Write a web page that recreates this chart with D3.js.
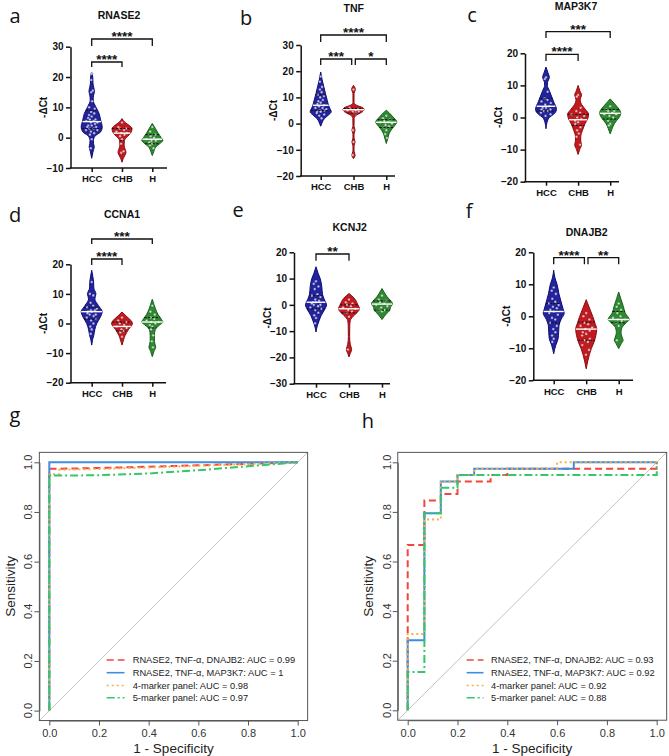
<!DOCTYPE html>
<html><head><meta charset="utf-8">
<script src="https://cdn.jsdelivr.net/npm/d3@7"></script>
<style>body{margin:0;background:#fff}svg{display:block}</style>
</head><body>
<svg id="chart" width="669" height="756"></svg>
<script>
// ---------------- DATA ----------------
const groups = ["HCC", "CHB", "H"];

// violin density profiles: [value, relative half-width], top to bottom
const RNASE2_yTicks = [-10, 0, 10, 20, 30];
const RNASE2_profiles = [
  [[21.4,0],[20,0.1],[18,0.12],[16.5,0.2],[15.2,0.26],[14,0.18],[12.4,0.14],[10.2,0.38],[8,0.7],[5.8,0.85],[3.5,1],[1.9,0.85],[0.8,0.4],[-0.9,0.16],[-2,0.18],[-3,0.24],[-4.7,0.12],[-6.8,0]],
  [[6.3,0],[5,0.3],[4,0.7],[3,0.95],[2,0.9],[1,0.7],[0,0.4],[-1,0.22],[-2.5,0.2],[-3.8,0.3],[-4.8,0.38],[-6,0.25],[-7,0.1],[-8.1,0]],
  [[4.7,0],[3,0.3],[1.5,0.55],[0,0.85],[-0.9,1],[-2,0.7],[-3,0.35],[-4.5,0.15],[-5.9,0]]
];
const RNASE2_stats = [[5.3,3,9],[1.5,-1,3],[-0.5,-2,1]];
const RNASE2_dots = [
  [21,19,15.5,15,12,10,9.5,8.5,8,7.5,7,6.5,6,6,5.5,5.5,5,5,4.5,4,4,3.5,3.5,3,3,2.5,2.5,2,1.5,1,-0.5,-3.5],
  [5,3.5,3,3,2.5,2,1.5,1.5,1,0.5,-0.5,-2,-4.5,-5],
  [3.5,2,1,0.5,0,-0.5,-0.5,-1,-1,-1.5,-2,-2.5,-3.5]
];
const RNASE2_sig = [[0,2,"****"],[0,1,"****"]];

const TNF_yTicks = [-20, -10, 0, 10, 20, 30];
const TNF_profiles = [
  [[19.7,0],[17,0.12],[14,0.3],[11.5,0.45],[8.9,0.62],[6.4,0.8],[4.5,1],[3.2,0.72],[1.9,0.35],[0.5,0.15],[-1,0]],
  [[14.6,0],[13,0.18],[11.5,0.05],[8,0.05],[7,0.3],[6,0.9],[5.3,1],[4.5,0.85],[3.3,0.3],[2,0.06],[-1,0.05],[-2.5,0.15],[-4,0.05],[-5.5,0.05],[-7,0.15],[-8.5,0.05],[-10.5,0.05],[-12,0.15],[-13.4,0]],
  [[5.1,0],[4,0.3],[2.5,0.65],[0.6,1],[-1,0.75],[-2.5,0.45],[-4,0.25],[-5.5,0.15],[-7.6,0]]
];
const TNF_stats = [[7,5,11],[5.3,4,5.8],[0.5,-1.5,1.5]];
const TNF_dots = [
  [18,16,14,13,12,11,10.5,10,9,8.5,8,7.5,7,6.5,6,6,5.5,5,5,4.5,4.5,4,3.5,3,2],
  [13,6,5.5,5.5,5,5,4.5,4.5,4,-2.5,-7,-12],
  [3,2,1.5,1,0.5,0.5,0,-0.5,-1,-1.5,-2.5,-4,-5.5]
];
const TNF_sig = [[0,2,"****"],[0,1,"***"],[1,2,"*"]];

const MAP3K7_yTicks = [-20, -10, 0, 10, 20];
const MAP3K7_profiles = [
  [[15.7,0],[14,0.18],[12.5,0.32],[11,0.15],[10,0.13],[8.5,0.3],[7,0.48],[5,0.72],[2.5,1],[1,0.72],[0,0.32],[-1.5,0.1],[-3.5,0]],
  [[10,0],[8.5,0.15],[7,0.32],[5.5,0.2],[4,0.35],[2.5,0.7],[1,1],[-0.5,0.9],[-2,0.65],[-4,0.42],[-6,0.25],[-7.3,0.25],[-8.5,0.32],[-10,0.15],[-11.5,0]],
  [[5.8,0],[4.5,0.35],[3,0.75],[1.5,1],[0,0.85],[-1,0.6],[-2,0.38],[-3.5,0.18],[-5.1,0]]
];
const MAP3K7_stats = [[3.5,2,6],[-0.7,-2.5,1],[1.3,-0.5,2.5]];
const MAP3K7_dots = [
  [12.5,12,8,6,5.5,5,4.5,4,3.5,3,3,2.5,2.5,2,2,1.5,1,0.5],
  [7,6.5,3,2,1.5,1,0.5,0,-0.5,-1,-1.5,-2,-3,-4,-5,-6,-8.5],
  [3.5,2.5,2,2,1.5,1,1,0.5,0,-1,-2,-2.5]
];
const MAP3K7_sig = [[0,2,"***"],[0,1,"****"]];

const CCNA1_yTicks = [-20, -10, 0, 10, 20];
const CCNA1_profiles = [
  [[18,0],[16,0.1],[14,0.18],[12,0.2],[10,0.4],[8.3,0.3],[6,0.65],[4,1],[2,0.8],[0,0.48],[-2,0.3],[-4,0.2],[-5.5,0.08],[-7.3,0]],
  [[3.9,0],[2.5,0.4],[1,0.85],[0,1],[-1,0.85],[-2,0.62],[-3,0.45],[-4,0.3],[-5.5,0.15],[-7.3,0]],
  [[8.2,0],[6.5,0.15],[5,0.3],[3,0.55],[1.5,0.85],[0.5,1],[-0.5,0.7],[-2,0.28],[-4,0.2],[-6,0.2],[-8,0.32],[-9.5,0.15],[-11.2,0]]
];
const CCNA1_stats = [[4,1.5,5.5],[-1,-2.5,0.5],[0.5,-1.5,2]];
const CCNA1_dots = [
  [14,10,9.5,7,6,5.5,5,4.5,4.5,4,4,3.5,3,3,2.5,2,1.5,1,0,-1,-2,-3.5],
  [2,1,0.5,0,-0.5,-1,-1.5,-2,-2.5,-3,-4.5],
  [6,4,3,2,1.5,1,0.5,0.5,0,-0.5,-1,-2,-4,-6,-8]
];
const CCNA1_sig = [[0,2,"***"],[0,1,"****"]];

const KCNJ2_yTicks = [-30, -20, -10, 0, 10, 20];
const KCNJ2_profiles = [
  [[14.5,0],[12,0.2],[10,0.4],[7,0.55],[4,0.62],[2,0.8],[0,1],[-2,0.8],[-4,0.5],[-6,0.3],[-8,0.12],[-10.3,0]],
  [[4.3,0],[2.5,0.5],[0,0.85],[-1.5,1],[-3,0.75],[-4,0.5],[-5,0.25],[-6,0.12],[-8,0.07],[-12,0.06],[-15,0.12],[-17,0.25],[-18.5,0.12],[-19.8,0]],
  [[6.2,0],[4.5,0.25],[3,0.5],[1.5,0.85],[0.5,1],[-1,0.8],[-2,0.75],[-3.5,0.4],[-5.6,0]]
];
const KCNJ2_stats = [[1,-1.5,3.5],[-1.5,-3,0],[0.3,-2,1.5]];
const KCNJ2_dots = [
  [9,8,7,6,4,3.5,3,2,1.5,1,1,0.5,0,0,-0.5,-1,-1.5,-2,-3,-4,-5,-7],
  [2,1,0.5,0,-0.5,-1,-1.5,-2,-2.5,-3,-4.5,-17],
  [3.5,2,1.5,1,0.5,0,-0.5,-1,-2,-2,-2.5]
];
const KCNJ2_sig = [[0,1,"**"]];

const DNAJB2_yTicks = [-20, -10, 0, 10, 20];
const DNAJB2_profiles = [
  [[14.4,0],[12,0.12],[10,0.32],[7,0.5],[4,0.75],[2,0.92],[1,1],[-1,0.7],[-3,0.5],[-5,0.47],[-7,0.42],[-9,0.2],[-11.7,0]],
  [[5.2,0],[3.5,0.2],[2,0.38],[0,0.62],[-2,0.82],[-4,1],[-6,0.92],[-8,0.75],[-10,0.5],[-12,0.3],[-14,0.15],[-16.4,0]],
  [[7.6,0],[5.5,0.2],[3,0.45],[1,0.62],[-1,1],[-2,0.72],[-3.5,0.32],[-5,0.22],[-6.5,0.32],[-7.5,0.42],[-8.5,0.25],[-10.1,0]]
];
const DNAJB2_stats = [[1.5,-2,4],[-4,-7.5,-1.8],[-1,-2,1.5]];
const DNAJB2_dots = [
  [9,8,7,5.5,4.5,4,3.5,3,2.5,2,1.5,1,0.5,-0.5,-1,-2,-3,-4,-5,-6,-7,-8],
  [1,0,-1,-2,-2.5,-3,-3.5,-4,-4.5,-5,-5.5,-6,-7,-7.5,-8,-9,-10.5,-12],
  [4,3,2,1,0,-0.5,-1,-1,-1.5,-2,-3,-7.5]
];
const DNAJB2_sig = [[0,1,"****"],[1,2,"**"]];

// ROC curves: [1 - specificity, sensitivity]
const rocTicks = [0, 0.2, 0.4, 0.6, 0.8, 1.0];
const rocG_red    = [[0,0],[0,0.974],[0.04,0.974],[0.2,0.977],[0.4,0.982],[0.6,0.988],[0.8,0.994],[1,1]];
const rocG_blue   = [[0,0],[0,1],[1,1]];
const rocG_orange = [[0,0],[0,0.952],[0.04,0.952],[0.04,0.97],[0.2,0.973],[0.4,0.979],[0.6,0.986],[0.8,0.993],[1,1]];
const rocG_green  = [[0,0],[0,0.947],[0.1,0.947],[0.2,0.948],[0.4,0.955],[0.6,0.968],[0.8,0.984],[1,1]];
const rocG_labels = ["RNASE2, TNF-\u03b1, DNAJB2: AUC = 0.99","RNASE2, TNF-\u03b1, MAP3K7: AUC = 1","4-marker panel: AUC = 0.98","5-marker panel: AUC = 0.97"];

const rocH_red    = [[0,0],[0,0.667],[0.067,0.667],[0.067,0.846],[0.133,0.846],[0.133,0.872],[0.2,0.872],[0.2,0.923],[0.333,0.923],[0.333,0.949],[0.4,0.949],[0.4,0.974],[1,0.974],[1,1]];
const rocH_blue   = [[0,0],[0,0.282],[0.067,0.282],[0.067,0.795],[0.133,0.795],[0.133,0.923],[0.2,0.923],[0.2,0.949],[0.267,0.949],[0.267,0.974],[0.667,0.974],[0.667,1],[1,1]];
const rocH_orange = [[0,0],[0,0.308],[0.067,0.308],[0.067,0.769],[0.133,0.769],[0.133,0.923],[0.2,0.923],[0.2,0.949],[0.267,0.949],[0.267,0.974],[0.6,0.974],[0.6,1],[1,1]];
const rocH_green  = [[0,0],[0,0.154],[0.067,0.154],[0.067,0.795],[0.133,0.795],[0.133,0.897],[0.2,0.897],[0.2,0.949],[1,0.949],[1,1]];
const rocH_labels = ["RNASE2, TNF-\u03b1, DNAJB2: AUC = 0.93","RNASE2, TNF-\u03b1, MAP3K7: AUC = 0.92","4-marker panel: AUC = 0.92","5-marker panel: AUC = 0.88"];

// ---------------- STYLE / LAYOUT ----------------
const groupFill   = ["#23239c", "#c11a20", "#2e8a30"];
const groupStroke = ["#0c0c78", "#8c0c10", "#1a5e1c"];
const rocColors = ["#f0463b", "#3b8fde", "#f5b04a", "#35c66a"];
const rocDash   = ["7,4", null, "2,3", "8,3,2,3"];
const boldFont = "'Liberation Sans', Arial, sans-serif";

const violinPanels = [
  {gene:"RNASE2", letter:"a", ticks:RNASE2_yTicks, prof:RNASE2_profiles, stats:RNASE2_stats, dots:RNASE2_dots, sig:RNASE2_sig,
   ax:70.5, yT:46.7, yB:168, x0:91.7, step:30.3, xEnd:167, title:[119,15], lab:[15,23], sigY:[[39,46],[62,67]]},
  {gene:"TNF", letter:"b", ticks:TNF_yTicks, prof:TNF_profiles, stats:TNF_stats, dots:TNF_dots, sig:TNF_sig,
   ax:300.7, yT:45, yB:176, x0:320.7, step:32.8, xEnd:395, title:[353.7,8.5], lab:[246,25], sigY:[[35,42],[59,65],[59,65]]},
  {gene:"MAP3K7", letter:"c", ticks:MAP3K7_yTicks, prof:MAP3K7_profiles, stats:MAP3K7_stats, dots:MAP3K7_dots, sig:MAP3K7_sig,
   ax:525, yT:53.3, yB:181.7, x0:546, step:32.1, xEnd:619, title:[576,6], lab:[472,22], sigY:[[31.7,38],[54.3,61]]},
  {gene:"CCNA1", letter:"d", ticks:CCNA1_yTicks, prof:CCNA1_profiles, stats:CCNA1_stats, dots:CCNA1_dots, sig:CCNA1_sig,
   ax:70.5, yT:264.3, yB:382.7, x0:91.7, step:30.3, xEnd:166, title:[122,214], lab:[15,222], sigY:[[239,244],[259,265]]},
  {gene:"KCNJ2", letter:"e", ticks:KCNJ2_yTicks, prof:KCNJ2_profiles, stats:KCNJ2_stats, dots:KCNJ2_dots, sig:KCNJ2_sig,
   ax:294, yT:252.3, yB:383.7, x0:316, step:33, xEnd:390, title:[349.7,227.3], lab:[238,217], sigY:[[254,260.7]]},
  {gene:"DNAJB2", letter:"f", ticks:DNAJB2_yTicks, prof:DNAJB2_profiles, stats:DNAJB2_stats, dots:DNAJB2_dots, sig:DNAJB2_sig,
   ax:533.3, yT:252.3, yB:380.3, x0:553.7, step:32.5, xEnd:633, title:[586.7,231.7], lab:[469,218], sigY:[[257.7,264.3],[257.7,264.3]]}
];

const rocPanels = [
  {letter:"g", lab:[15,422], xr:[49.3,297.7], yr:[710.6,462.3], series:[rocG_red,rocG_blue,rocG_orange,rocG_green], labels:rocG_labels, leg:[106.7,124.5,132.7]},
  {letter:"h", lab:[368,428], xr:[407.7,656.7], yr:[710.3,462.3], series:[rocH_red,rocH_blue,rocH_orange,rocH_green], labels:rocH_labels, leg:[466.7,483.5,491]}
];
const legendRowY = [660, 672.7, 685.5, 697.8];

// ---------------- DRAW ----------------
const svg = d3.select("#chart");
svg.append("rect").attr("width",669).attr("height",756).attr("fill","#fff");

function relW(prof, v) {
  for (let i = 0; i < prof.length - 1; i++) {
    const a = prof[i], b = prof[i+1];
    if (v <= a[0] && v >= b[0]) { const t = (a[0]-v)/(a[0]-b[0]); return a[1] + (b[1]-a[1])*t; }
  }
  return 0;
}
const HW = 10.5;
const jitter = [0,-0.5,0.5,-0.25,0.25,-0.7,0.7,-0.1,0.4,-0.4];

violinPanels.forEach(p => {
  const g = svg.append("g");
  const y = d3.scaleLinear().domain([p.ticks[0], p.ticks[p.ticks.length-1]]).range([p.yB, p.yT]);
  const x = d3.scalePoint().domain(groups).range([p.x0, p.x0 + 2*p.step]);

  g.append("text").attr("x",p.lab[0]).attr("y",p.lab[1]).attr("text-anchor","middle")
    .attr("font-family","'Open Sans', 'Liberation Sans', sans-serif").attr("font-size",20).attr("fill","#111").text(p.letter);
  g.append("text").attr("x",p.title[0]).attr("y",p.title[1]+3.8).attr("text-anchor","middle")
    .attr("font-family",boldFont).attr("font-weight","bold").attr("font-size",10.5).attr("fill","#111").text(p.gene);

  const yAx = g.append("g").attr("transform",`translate(${p.ax},0)`)
    .call(d3.axisLeft(y).tickValues(p.ticks).tickSize(4.5).tickSizeOuter(0).tickPadding(2.5).tickFormat(d3.format("d")));
  yAx.selectAll("path,line").attr("stroke","#111").attr("stroke-width",1.5);
  yAx.selectAll("text").attr("font-family",boldFont).attr("font-weight","bold").attr("font-size",10).attr("fill","#111");
  const xAx = g.append("g").attr("transform",`translate(0,${p.yB})`)
    .call(d3.axisBottom(x).tickSize(4).tickSizeOuter(0).tickPadding(3.5));
  xAx.select(".domain").remove();
  xAx.selectAll("line").attr("stroke","#111").attr("stroke-width",1.5);
  xAx.selectAll("text").attr("font-family",boldFont).attr("font-weight","bold").attr("font-size",9.5).attr("fill","#111");
  g.append("line").attr("x1",p.ax-0.75).attr("x2",p.xEnd).attr("y1",p.yB).attr("y2",p.yB).attr("stroke","#111").attr("stroke-width",1.5);

  g.append("text").attr("transform",`translate(${p.ax-27},${(p.yT+p.yB)/2}) rotate(-90)`).attr("text-anchor","middle")
    .attr("dy","0.35em").attr("font-family",boldFont).attr("font-weight","bold").attr("font-size",10).attr("fill","#111").text("-\u0394Ct");

  groups.forEach((grp, gi) => {
    const cx = x(grp), prof = p.prof[gi];
    const area = d3.area().curve(d3.curveMonotoneY)
      .y(d => y(d[0])).x0(d => cx - d[1]*HW).x1(d => cx + d[1]*HW);
    g.append("path").datum(prof).attr("d",area).attr("fill",groupFill[gi])
      .attr("stroke",groupStroke[gi]).attr("stroke-width",1);
    p.dots[gi].forEach((v,i) => {
      const w = relW(prof, v)*HW*0.85;
      g.append("circle").attr("cx",cx + jitter[i%jitter.length]*w).attr("cy",y(v)).attr("r",1.3)
        .attr("fill","#fff").attr("fill-opacity",0.75).attr("stroke",groupStroke[gi]).attr("stroke-width",0.3);
    });
    const st = p.stats[gi];
    [st[1], st[2]].forEach(q => {
      const w = relW(prof, q)*HW;
      g.append("line").attr("x1",cx-w).attr("x2",cx+w).attr("y1",y(q)).attr("y2",y(q))
        .attr("stroke","#111").attr("stroke-width",1).attr("stroke-dasharray","2.2,1.6");
    });
    const wm = relW(prof, st[0])*HW;
    g.append("line").attr("x1",cx-wm).attr("x2",cx+wm).attr("y1",y(st[0])).attr("y2",y(st[0]))
      .attr("stroke","#fff").attr("stroke-width",1.4);
  });

  p.sig.forEach((s, si) => {
    const [yl, yd] = p.sigY[si];
    let xa = x(groups[s[0]]), xb = x(groups[s[1]]);
    const shareLeft = p.sig.some((o,oi) => oi!==si && p.sigY[oi][0]===yl && o[1]===s[0]);
    const shareRight = p.sig.some((o,oi) => oi!==si && p.sigY[oi][0]===yl && o[0]===s[1]);
    if (shareLeft) xa += 1.8;
    if (shareRight) xb -= 1.8;
    g.append("path").attr("d",`M${xa},${yd}V${yl}H${xb}V${yd}`).attr("fill","none")
      .attr("stroke","#111").attr("stroke-width",1.3);
    g.append("text").attr("x",(xa+xb)/2).attr("y",yl+1.8).attr("text-anchor","middle")
      .attr("font-family",boldFont).attr("font-weight","bold").attr("font-size",13.5).attr("fill","#111").text(s[2]);
  });
});

// ROC panels
const rocFont = "'Liberation Sans', Arial, sans-serif";
rocPanels.forEach(p => {
  const g = svg.append("g");
  const x = d3.scaleLinear().domain([0,1]).range(p.xr);
  const y = d3.scaleLinear().domain([0,1]).range(p.yr);
  g.append("text").attr("x",p.lab[0]).attr("y",p.lab[1]).attr("text-anchor","middle")
    .attr("font-family","'Open Sans', 'Liberation Sans', sans-serif").attr("font-size",20).attr("fill","#111").text(p.letter);

  g.append("line").attr("x1",x(-0.04)).attr("y1",y(-0.04)).attr("x2",x(1.04)).attr("y2",y(1.04))
    .attr("stroke","#c4c4c4").attr("stroke-width",1);

  const xa = g.append("g").attr("transform",`translate(0,${y(-0.04)})`)
    .call(d3.axisBottom(x).tickValues(rocTicks).tickFormat(d3.format(".1f")).tickSize(5).tickSizeOuter(0).tickPadding(4));
  xa.select(".domain").attr("stroke","#555");
  xa.selectAll("line").attr("stroke","#555");
  xa.selectAll("text").attr("font-family",rocFont).attr("font-size",11).attr("fill","#333");
  const ya = g.append("g").attr("transform",`translate(${x(-0.04)},0)`)
    .call(d3.axisLeft(y).tickValues(rocTicks).tickFormat(d3.format(".1f")).tickSize(5).tickSizeOuter(0));
  ya.select(".domain").attr("stroke","#555");
  ya.selectAll("line").attr("stroke","#555");
  ya.selectAll("text").remove();
  rocTicks.forEach(t => {
    g.append("text").attr("transform",`translate(${x(-0.04)-11},${y(t)}) rotate(-90)`)
      .attr("text-anchor","middle").attr("dy","0.35em").attr("font-family",rocFont).attr("font-size",11)
      .attr("fill","#333").text(d3.format(".1f")(t));
  });

  g.append("rect").attr("x",x(-0.04)).attr("y",y(1.04)).attr("width",x(1.04)-x(-0.04)).attr("height",y(-0.04)-y(1.04))
    .attr("fill","none").attr("stroke","#555").attr("stroke-width",1);

  g.append("text").attr("x",(p.xr[0]+p.xr[1])/2).attr("y",752.5).attr("text-anchor","middle")
    .attr("font-family",rocFont).attr("font-size",13.5).attr("fill","#222").text("1 - Specificity");
  g.append("text").attr("transform",`translate(${x(-0.04)-29},${(p.yr[0]+p.yr[1])/2}) rotate(-90)`).attr("text-anchor","middle")
    .attr("dy","0.35em").attr("font-family",rocFont).attr("font-size",13.5).attr("fill","#222").text("Sensitivity");

  const line = d3.line().x(d => x(d[0])).y(d => y(d[1]));
  p.series.forEach((s, i) => {
    g.append("path").datum(s).attr("d",line).attr("fill","none").attr("stroke",rocColors[i])
      .attr("stroke-width",2).attr("stroke-dasharray",rocDash[i]);
  });

  p.labels.forEach((lab, i) => {
    const ly = legendRowY[i];
    g.append("line").attr("x1",p.leg[0]).attr("x2",p.leg[1]).attr("y1",ly).attr("y2",ly)
      .attr("stroke",rocColors[i]).attr("stroke-width",1.6).attr("stroke-dasharray",rocDash[i]);
    g.append("text").attr("x",p.leg[2]).attr("y",ly+3.4).attr("font-family",rocFont).attr("font-size",9.3)
      .attr("fill","#222").text(lab);
  });
});
</script>
</body></html>
